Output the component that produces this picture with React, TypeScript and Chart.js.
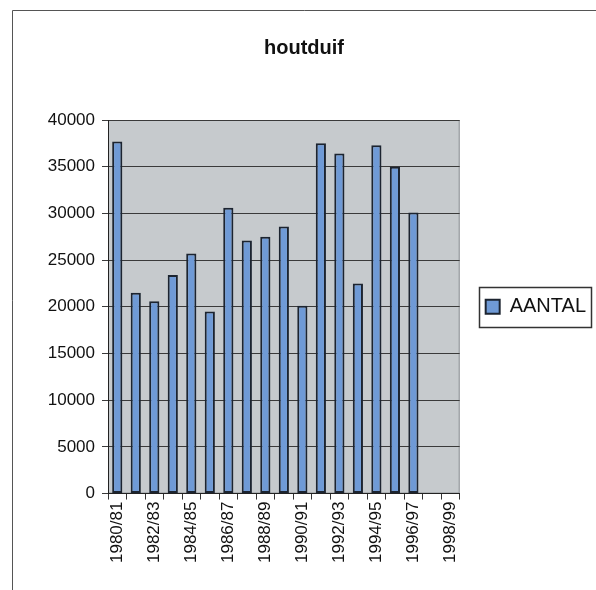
import React, { useEffect, useRef } from "react";
import { Chart, registerables } from "chart.js";

Chart.register(...registerables);

const TITLE = "houtduif";
const SERIES_NAME = "AANTAL";
const seasons = [
  "1980/81", "1981/82", "1982/83", "1983/84", "1984/85", "1985/86", "1986/87",
  "1987/88", "1988/89", "1989/90", "1990/91", "1991/92", "1992/93", "1993/94",
  "1994/95", "1995/96", "1996/97", "1997/98", "1998/99",
];
const aantal: (number | null)[] = [
  37700, 21500, 20600, 23400, 25700, 19500, 30600, 27100, 27500, 28600,
  20100, 37500, 36400, 22500, 37300, 35000, 30100, null, null,
];
const yMin = 0;
const yMax = 40000;
const yStep = 5000;

const framePlugin = {
  id: "frameAndBg",
  beforeDraw(chart: any) {
    const { ctx, chartArea } = chart;
    ctx.save();
    ctx.fillStyle = "#ffffff";
    ctx.fillRect(0, 0, chart.width, chart.height);
    ctx.fillStyle = "#c6cacd";
    ctx.fillRect(chartArea.left, chartArea.top, chartArea.right - chartArea.left, chartArea.bottom - chartArea.top);
    ctx.strokeStyle = "#8c9094";
    ctx.lineWidth = 1;
    ctx.strokeRect(chartArea.left + 0.5, chartArea.top + 0.5, chartArea.right - chartArea.left - 1, chartArea.bottom - chartArea.top - 1);
    // outer frame
    ctx.strokeStyle = "#555555";
    ctx.beginPath();
    ctx.moveTo(12.5, chart.height);
    ctx.lineTo(12.5, 10.5);
    ctx.lineTo(chart.width, 10.5);
    ctx.stroke();
    ctx.restore();
  },
  afterDraw(chart: any) {
    const lg = chart.legend;
    if (!lg || !lg.legendHitBoxes || !lg.legendHitBoxes.length) return;
    const hb = lg.legendHitBoxes[0];
    const { ctx } = chart;
    ctx.save();
    ctx.strokeStyle = "#333333";
    ctx.lineWidth = 1.5;
    const cy = hb.top + hb.height / 2;
    ctx.strokeRect(Math.round(hb.left - 7) + 0.5, Math.round(cy - 20) + 0.5, Math.round(hb.width + 12), 40);
    ctx.restore();
  },
};

export default function App() {
  const ref = useRef<HTMLCanvasElement>(null);
  useEffect(() => {
    if (!ref.current) return;
    const chart = new Chart(ref.current, {
      type: "bar",
      data: {
        labels: seasons,
        datasets: [
          {
            label: SERIES_NAME,
            data: aantal,
            backgroundColor: "#6f9ad6",
            borderColor: "#1c2430",
            borderWidth: 2,
            borderSkipped: false,
            barPercentage: 0.55,
            categoryPercentage: 1,
          },
        ],
      },
      options: {
        responsive: false,
        animation: false,
        layout: { padding: { left: 12, right: 0, top: 12, bottom: 25 } },
        plugins: {
          title: {
            display: true,
            text: TITLE,
            color: "#111111",
            font: { family: "Arial, 'Liberation Sans', sans-serif", size: 20, weight: "bold" },
            padding: { top: 24, bottom: 60 },
          },
          legend: {
            display: true,
            position: "right",
            fullSize: false,
            labels: {
              boxWidth: 14,
              boxHeight: 14,
              padding: 26,
              color: "#111111",
              font: { family: "Arial, 'Liberation Sans', sans-serif", size: 20 },
            },
          },
          tooltip: { enabled: false },
        },
        scales: {
          x: {
            grid: {
              display: true,
              offset: true,
              drawOnChartArea: false,
              drawTicks: true,
              tickLength: 6,
              color: "#333333",
            },
            border: { display: true, color: "#222222", width: 1 },
            ticks: {
              autoSkip: false,
              maxRotation: 90,
              minRotation: 90,
              padding: 2,
              color: "#111111",
              font: { family: "Arial, 'Liberation Sans', sans-serif", size: 17 },
              callback: function (_v: any, i: number) {
                return i % 2 === 0 ? seasons[i] : "";
              },
            },
          },
          y: {
            min: yMin,
            max: yMax,
            afterFit(scale: any) {
              scale.width = 96;
            },
            grid: {
              display: true,
              color: "#3a3a3a",
              lineWidth: 1,
              tickLength: 6,
            },
            border: { display: true, color: "#222222", width: 1 },
            ticks: {
              stepSize: yStep,
              padding: 7,
              color: "#111111",
              font: { family: "Arial, 'Liberation Sans', sans-serif", size: 17 },
              callback: (v: any) => String(v),
            },
          },
        },
      },
      plugins: [framePlugin],
    } as any);
    return () => chart.destroy();
  }, []);
  return (
    <div style={{ position: "absolute", left: 0, top: 0, width: 596, height: 590, background: "#fff" }}>
      <canvas ref={ref} width={596} height={590} style={{ display: "block" }} />
    </div>
  );
}
